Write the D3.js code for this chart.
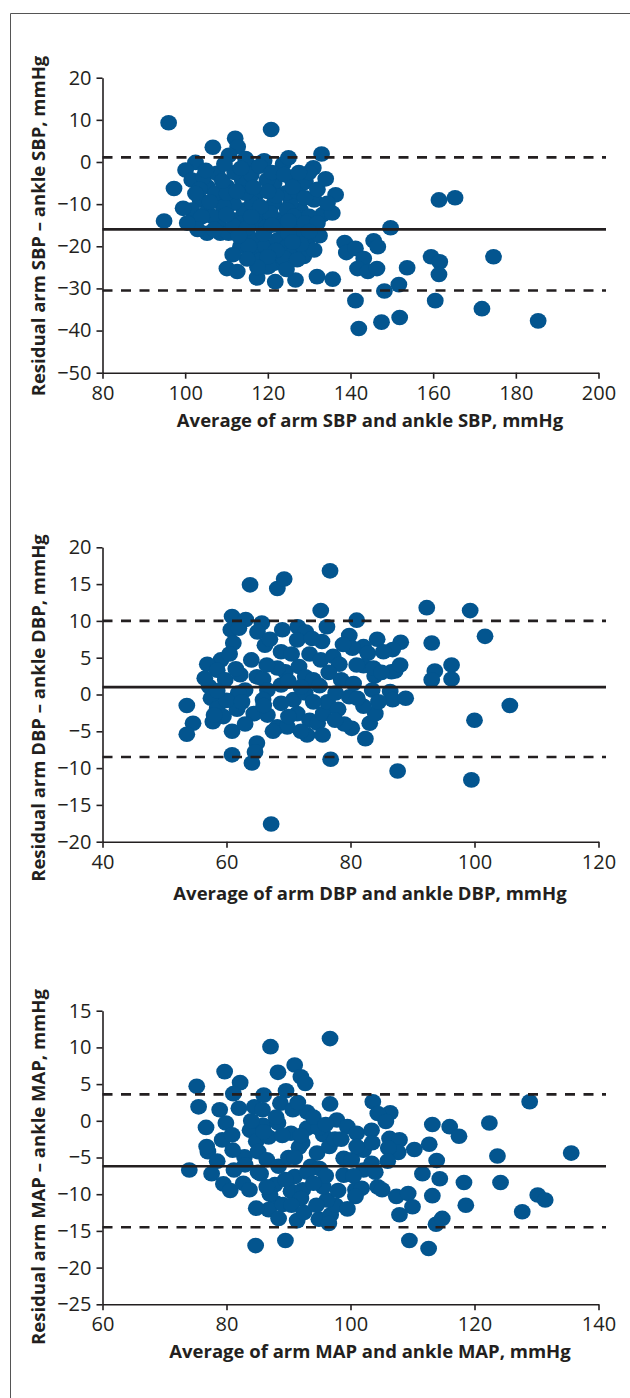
<!DOCTYPE html>
<meta charset="utf-8">
<script src="https://d3js.org/d3.v7.min.js"></script>
<style>
  body { margin: 0; background: #fff; }
  text { font-family: "Open Sans", "Noto Sans", sans-serif; fill: #231f20; }
</style>
<div id="my_dataviz"></div>
<script>

// ---- data: panel A (systolic) ----
var sbpPoints = [
  [96.0,9.3],[120.8,7.7],[94.9,-14.0],[97.3,-6.3],[112.1,5.6],[112.7,3.6],[106.7,3.5],[133.0,1.9],
  [131.0,-1.4],[119.1,0.3],[123.7,-0.5],[102.5,-0.1],[100.1,-1.9],[110.6,1.6],[115.2,-0.7],[136.4,-7.8],
  [161.4,-9.0],[165.3,-8.5],[149.7,-15.6],[138.6,-19.1],[139.0,-21.5],[145.6,-18.7],[146.6,-20.1],[141.2,-20.5],
  [143.2,-22.9],[141.7,-25.3],[144.2,-26.0],[146.4,-25.3],[153.7,-25.1],[159.5,-22.5],[161.6,-23.7],[161.4,-26.7],
  [174.6,-22.5],[148.2,-30.6],[151.7,-29.1],[141.2,-32.9],[160.5,-32.9],[171.8,-34.8],[142.0,-39.5],[147.5,-38.0],
  [151.9,-36.9],[185.4,-37.7],[110.1,-25.3],[112.6,-26.0],[117.4,-27.5],[121.8,-28.4],[126.7,-28.0],[131.9,-27.2],
  [135.7,-27.8],[119.8,-24.9],[114.6,0.8],[128.7,-4.9],[125.9,-4.3],[121.5,-5.1],[117.4,-7.4],[113.8,-4.3],
  [110.1,-5.8],[105.3,-5.8],[101.6,-4.3],[103.6,-9.0],[101.6,-11.4],[102.4,-14.5],[105.3,-11.8],[108.1,-9.4],
  [108.5,-12.9],[108.1,-14.9],[105.3,-16.9],[108.5,-16.9],[110.5,-16.9],[112.6,-13.7],[114.2,-11.4],[115.0,-16.9],
  [116.2,-18.5],[117.0,-21.6],[118.2,-23.2],[119.4,-20.0],[118.6,-12.9],[121.5,-9.8],[123.1,-13.7],[122.3,-18.5],
  [124.7,-20.0],[121.5,-24.0],[126.3,-21.6],[128.7,-22.4],[129.5,-18.5],[131.2,-20.9],[127.1,-15.2],[127.9,-11.4],
  [131.2,-9.0],[133.2,-12.5],[135.6,-12.1],[134.4,-9.8],[130.0,-12.9],[125.5,-9.8],[124.3,-7.4],[127.1,-7.0],
  [119.8,-4.3],[116.2,-9.8],[114.6,-7.4],[111.7,-9.8],[109.3,-10.6],[107.3,-7.4],[104.5,-3.5],[107.7,-2.7],
  [110.1,-7.4],[113.8,-14.5],[111.7,-15.2],[106.5,-12.9],[117.0,-14.5],[119.8,-15.3],[123.1,-15.3],[120.6,-12.1],
  [118.2,-10.6],[124.7,-11.4],[126.3,-12.9],[127.9,-16.9],[123.9,-22.8],[127.1,-23.2],[120.2,-24.8],[115.0,-15.6],
  [113.4,-20.0],[115.4,-20.0],[129.1,-4.7],
  [103.5,-6.5],[106.0,-9.5],[109.0,-4.5],[112.0,-2.5],[116.0,-3.0],[118.0,-1.0],[121.0,-2.5],[124.0,-3.0],
  [126.0,-6.0],[129.0,-8.5],[132.0,-6.5],[134.0,-4.0],[130.0,-2.5],[122.0,-8.0],[120.0,-7.0],[116.5,-6.0],
  [112.5,-7.0],[104.0,-13.0],[107.0,-16.0],[110.0,-12.5],[113.0,-17.5],[116.0,-13.0],[119.0,-17.0],[121.0,-15.0],
  [125.0,-17.0],[125.0,-14.0],[129.0,-14.5],[132.0,-14.5],[132.5,-17.5],[130.0,-16.5],[122.0,-21.0],[120.0,-22.5],
  [124.5,-25.5],[128.0,-19.5],[126.0,-19.0],[117.5,-25.0],[115.0,-23.0],[111.5,-22.0],[103.0,-16.0],[100.5,-14.5],
  [99.5,-11.0],[102.5,-7.5],[105.0,-2.0],[109.5,-0.5],[113.5,-1.5],[125.0,1.0],[127.5,-2.5]
];
var sbpLines = [1.1, -16.0, -30.5];   // upper limit, mean, lower limit
var sbpXTicks = [80, 100, 120, 140, 160, 180, 200];
var sbpYTicks = [20, 10, 0, -10, -20, -30, -40, -50];

// ---- data: panel B (diastolic) ----
var dbpPoints = [
  [63.8,14.9],[68.2,14.4],[69.3,15.7],[76.7,16.8],[67.2,-17.6],[75.2,11.4],[92.3,11.8],[99.3,11.4],
  [101.7,7.9],[93.1,7.0],[96.3,4.0],[93.6,3.2],[93.1,2.0],[96.3,2.1],[105.7,-1.5],[100.0,-3.5],
  [99.5,-11.6],[87.6,-10.4],[76.8,-8.8],[53.6,-1.5],[54.6,-3.9],[53.6,-5.4],[60.9,-8.2],[64.1,-9.3],
  [60.9,-5.0],[64.9,-6.6],[57.8,-3.7],[81.0,10.1],[60.9,10.6],[63.1,10.2],[65.7,9.7],[60.7,8.8],
  [71.5,9.2],[72.8,8.5],[76.2,9.2],[75.4,7.2],[79.8,8.0],[84.3,7.5],[88.1,7.1],[86.8,6.1],
  [82.1,6.5],[80.3,6.3],[61.1,7.0],[71.4,7.4],[68.8,5.8],[66.2,6.7],[64.0,4.7],[73.4,5.5],
  [75.2,4.7],[77.2,5.2],[78.2,4.1],[82.8,5.6],[82.1,3.9],[83.9,2.5],[87.2,3.2],[86.6,3.1],
  [59.1,4.7],[56.9,4.1],[58.5,3.3],[59.8,2.0],[62.2,2.7],[64.9,2.4],[65.9,2.1],[63.0,0.6],
  [57.2,1.1],[57.5,-0.5],[58.5,-1.9],[61.7,-2.0],[64.4,-2.6],[66.6,-2.8],[68.2,-4.4],[69.8,-4.4],
  [68.8,1.3],[69.5,3.1],[71.7,3.8],[70.8,-0.7],[72.7,0.2],[72.7,2.4],[74.0,2.0],[71.4,-2.6],
  [73.4,-3.5],[74.7,-3.9],[73.0,-5.5],[75.6,-2.6],[76.3,-1.0],[77.6,0.2],[78.5,2.0],[79.8,-0.3],
  [80.2,-4.6],[82.4,-6.0],[83.1,-3.9],[84.0,-2.6],[82.1,-1.6],[81.1,-0.5],[83.5,0.6],[86.4,0.4],
  [86.8,-0.7],[88.9,-0.5],[83.7,3.6],[85.3,5.8],[68.2,3.6],[66.6,0.6],[61.9,0.2],[68.8,-1.2],
  [65.9,-0.7],[64.6,-7.8],[56.5,2.2],[60.0,-0.8],
  [58.5,0.5],[59.5,-3.0],[62.5,-1.0],[60.5,5.5],[62.0,9.0],[65.0,8.5],[67.0,7.5],[69.0,8.8],
  [66.5,4.0],[70.5,5.5],[72.0,1.0],[74.0,-1.0],[75.0,1.2],[76.5,3.0],[78.0,-2.0],[79.0,-4.0],
  [80.5,1.5],[81.0,4.0],[84.5,-1.0],[85.0,3.0],[88.0,4.0],[70.0,-3.0],[72.0,-5.0],[67.5,-5.0],
  [63.0,-4.0],[66.0,-1.5],[75.5,-5.5],[77.5,-3.5],[78.8,6.8],[73.8,7.6],[70.0,1.8],[61.5,3.5],
  [58.0,-2.8]
];
var dbpLines = [10.0, 1.0, -8.5];
var dbpXTicks = [40, 60, 80, 100, 120];
var dbpYTicks = [20, 15, 10, 5, 0, -5, -10, -15, -20];

// ---- data: panel C (mean arterial) ----
var mapPoints = [
  [96.7,11.2],[87.1,10.1],[91.0,7.6],[79.7,6.7],[88.3,6.6],[82.2,5.2],[92.0,6.0],[92.7,5.1],
  [75.2,4.7],[81.1,3.7],[89.6,4.1],[128.9,2.6],[103.6,2.6],[96.7,2.3],[106.4,1.1],[104.4,1.0],
  [75.5,1.9],[78.9,1.5],[82.0,1.7],[84.5,1.9],[85.8,1.5],[88.7,2.4],[90.7,1.5],[93.0,1.2],
  [76.7,-0.9],[79.9,-0.3],[113.2,-0.5],[116.0,-0.8],[122.4,-0.3],[117.5,-2.1],[105.7,-0.1],[97.8,0.1],
  [99.5,-0.8],[101.0,-1.7],[103.4,-1.3],[106.3,-2.4],[107.9,-2.6],[110.3,-3.9],[112.7,-3.2],[107.7,-4.3],
  [106.1,-3.7],[135.6,-4.4],[123.7,-4.8],[113.9,-5.4],[111.6,-7.2],[114.4,-7.9],[118.3,-8.4],[124.2,-8.4],
  [74.0,-6.7],[77.0,-4.2],[76.8,-3.5],[77.6,-7.2],[79.5,-8.6],[80.6,-9.5],[82.7,-8.5],[83.7,-9.4],
  [79.3,-2.6],[80.9,-1.9],[82.9,-4.9],[81.2,-6.7],[83.8,-1.3],[85.9,-0.6],[88.3,-0.3],[84.8,-2.8],
  [86.8,-2.2],[85.1,-4.2],[86.5,-5.3],[85.5,-7.2],[88.4,-6.2],[87.8,-8.7],[91.0,-7.6],[90.4,-9.6],
  [92.3,-9.4],[92.0,-10.6],[88.0,-11.2],[86.8,-12.1],[84.8,-11.9],[89.1,-11.4],[88.4,-13.3],[91.4,-13.6],
  [84.7,-17.0],[89.5,-16.3],[94.9,-13.4],[96.8,-12.8],[97.6,-11.5],[96.2,-10.8],[95.6,-9.0],[93.6,-6.2],
  [94.6,-4.4],[91.7,-3.6],[90.4,-1.7],[93.0,-1.0],[95.6,-1.9],[94.9,-1.0],[96.6,-3.5],[98.9,-5.1],
  [98.9,-7.4],[100.8,-9.4],[101.8,-9.2],[100.8,-10.3],[100.2,-5.3],[102.1,-6.7],[103.4,-5.8],[102.1,-4.0],
  [104.4,-9.0],[105.1,-9.4],[107.4,-10.3],[109.3,-9.9],[110.0,-11.7],[107.9,-12.8],[113.2,-10.2],[113.8,-14.1],
  [114.8,-13.3],[118.6,-11.5],[127.7,-12.4],[130.2,-10.1],[131.4,-10.8],[109.5,-16.3],[112.6,-17.4],[85.1,-7.0],
  [92.2,-3.0],[90.0,-5.0],[97.5,-2.5],[95.0,-6.5],
  [84.0,0.0],[86.0,-1.5],[89.0,-2.0],[92.0,-2.0],[94.0,0.5],[96.0,-0.5],[98.5,-2.5],[101.0,-3.5],
  [103.5,-3.0],[91.0,-5.0],[93.0,-7.0],[96.0,-7.5],[98.0,-9.5],[94.0,-8.5],[90.5,-11.5],[92.5,-12.5],
  [87.0,-10.0],[83.0,-6.0],[81.0,-4.0],[78.5,-5.5],[86.5,-9.0],[89.5,-8.0],[100.5,-7.5],[104.0,-7.0],
  [106.0,-5.5],[96.5,-14.0],[94.5,-11.5],[99.5,-12.0],[88.0,0.5],[91.5,2.5],[86.0,3.5]
];
var mapLines = [3.6, -6.2, -14.5];
var mapXTicks = [60, 80, 100, 120, 140];
var mapYTicks = [15, 10, 5, 0, -5, -10, -15, -20, -25];

// ---- page ----
var W = 630, H = 1398;
var svg = d3.select("#my_dataviz")
  .append("svg")
    .attr("width", W)
    .attr("height", H);

// frame (only top and left edges are visible)
svg.append("path")
  .attr("d", "M10.5," + H + "V13.5H" + W)
  .attr("fill", "none")
  .attr("stroke", "#555")
  .attr("stroke-width", 1);

var ink = "#231f20";
var dotColor = "#03558f";

function drawPanel(p) {
  var x = d3.scaleLinear().domain(d3.extent(p.xTicks)).range([102.5, 598.5]);
  var y = d3.scaleLinear().domain(d3.extent(p.yTicks)).range([p.bottom, p.top]);
  var g = svg.append("g");

  // points
  g.append("g")
    .selectAll("ellipse")
    .data(p.points)
    .enter()
    .append("ellipse")
      .attr("cx", function(d) { return x(d[0]); })
      .attr("cy", function(d) { return y(d[1]); })
      .attr("rx", 8.4)
      .attr("ry", 7.8)
      .attr("fill", dotColor);

  // limits of agreement + mean
  g.selectAll("line.ref")
    .data(p.lines)
    .enter()
    .append("line")
      .attr("class", "ref")
      .attr("x1", x.range()[0])
      .attr("x2", 606)
      .attr("y1", function(d) { return y(d); })
      .attr("y2", function(d) { return y(d); })
      .attr("stroke", ink)
      .attr("stroke-width", 2.6)
      .attr("stroke-dasharray", function(d, i) { return i == 1 ? null : "10,8.5"; });

  // axes
  var ya = g.append("g")
    .attr("transform", "translate(" + x.range()[0] + ",0)")
    .call(d3.axisLeft(y).tickValues(p.yTicks).tickSize(6).tickSizeOuter(0).tickPadding(5));
  var xa = g.append("g")
    .attr("transform", "translate(0," + p.bottom + ")")
    .call(d3.axisBottom(x).tickValues(p.xTicks).tickSize(6).tickSizeOuter(0).tickPadding(7));
  [ya, xa].forEach(function(a) {
    a.select(".domain").attr("stroke", ink).attr("stroke-width", 1.6);
    a.selectAll(".tick line").attr("stroke", ink).attr("stroke-width", 1.6);
    a.selectAll(".tick text")
      .attr("fill", ink)
      .style("font-size", "20px")
      .style("font-family", "'Open Sans', sans-serif");
  });

  // axis titles
  g.append("text")
    .attr("x", 370)
    .attr("y", p.bottom + p.titleGap)
    .attr("text-anchor", "middle")
    .style("font-size", "18.5px")
    .style("font-weight", "bold")
    .text(p.xTitle);

  g.append("text")
    .attr("transform", "translate(45," + p.yMid + ") rotate(-90)")
    .attr("text-anchor", "middle")
    .style("font-size", "18.5px")
    .style("font-weight", "bold")
    .text(p.yTitle);
}

drawPanel({
  points: sbpPoints, lines: sbpLines, xTicks: sbpXTicks, yTicks: sbpYTicks,
  top: 77.7, bottom: 372.7, yMid: 226, titleGap: 54,
  xTitle: "Average of arm SBP and ankle SBP, mmHg",
  yTitle: "Residual arm SBP \u2013 ankle SBP, mmHg"
});

drawPanel({
  points: dbpPoints, lines: dbpLines, xTicks: dbpXTicks, yTicks: dbpYTicks,
  top: 547.3, bottom: 841.7, yMid: 708, titleGap: 58,
  xTitle: "Average of arm DBP and ankle DBP, mmHg",
  yTitle: "Residual arm  DBP \u2013 ankle DBP, mmHg"
});

drawPanel({
  points: mapPoints, lines: mapLines, xTicks: mapXTicks, yTicks: mapYTicks,
  top: 1010.7, bottom: 1304.3, yMid: 1167, titleGap: 54,
  xTitle: "Average of arm MAP and ankle MAP, mmHg",
  yTitle: "Residual arm  MAP \u2013 ankle MAP, mmHg"
});

</script>
